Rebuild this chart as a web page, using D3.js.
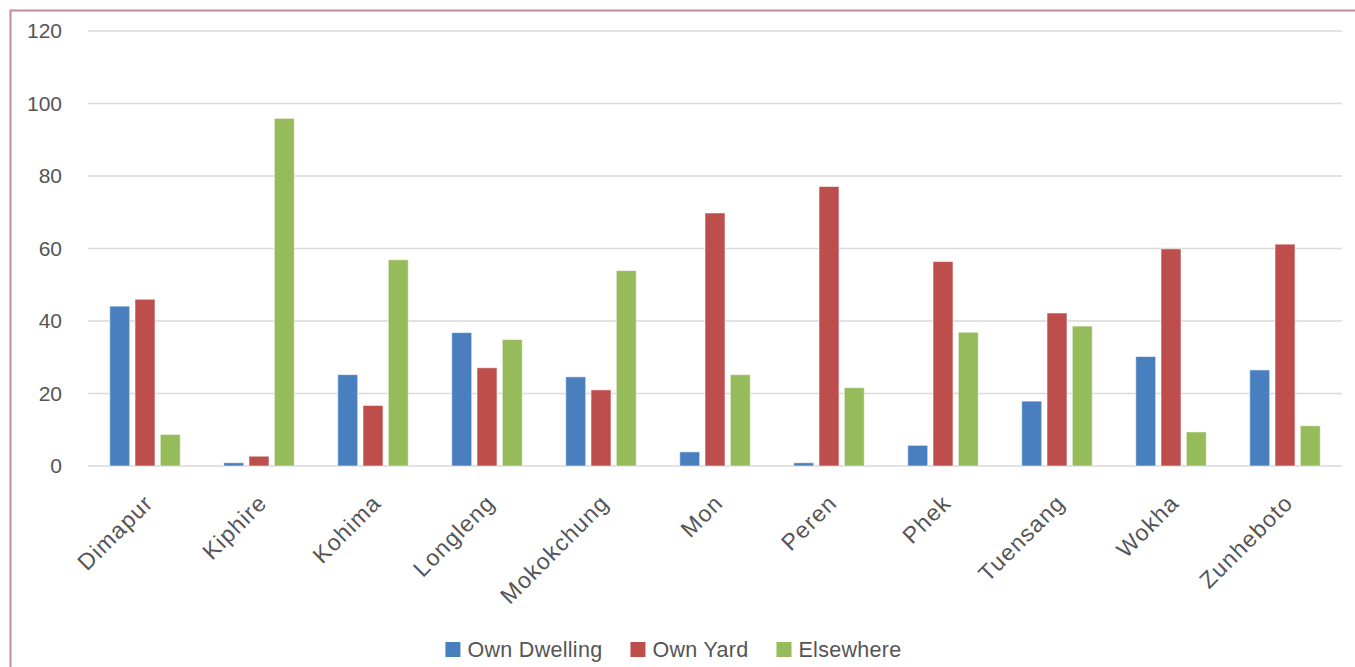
<!DOCTYPE html>
<html>
<head>
<meta charset="utf-8">
<script src="https://cdn.jsdelivr.net/npm/d3@7"></script>
<style>
  html, body { margin: 0; padding: 0; background: #fff; }
  svg { display: block; font-family: "Liberation Sans", Arial, sans-serif; }
</style>
</head>
<body>
<svg id="chart" width="1355" height="667"></svg>
<script>
// Districts along the x axis
const districts = ["Dimapur", "Kiphire", "Kohima", "Longleng", "Mokokchung", "Mon",
                   "Peren", "Phek", "Tuensang", "Wokha", "Zunheboto"];

// Series names and values (%)
const seriesNames = ["Own Dwelling", "Own Yard", "Elsewhere"];
const ownDwelling = [44.1, 0.9, 25.2, 36.8, 24.6, 3.9, 0.9, 5.7, 17.9, 30.2, 26.5];
const ownYard     = [46.0, 2.7, 16.7, 27.1, 21.0, 69.8, 77.1, 56.4, 42.2, 59.9, 61.2];
const elsewhere   = [8.7, 95.9, 56.9, 34.9, 53.9, 25.2, 21.6, 36.9, 38.6, 9.4, 11.1];

// Y axis ticks
const yTicks = [0, 20, 40, 60, 80, 100, 120];

const seriesValues = [ownDwelling, ownYard, elsewhere];
const colors = ["#4a7fbf", "#be4e4b", "#96bb5a"];

const svg = d3.select("#chart");

// Frame around the chart area
svg.append("rect")
  .attr("x", 10.5).attr("y", 10.5)
  .attr("width", 1400).attr("height", 700)
  .attr("fill", "none")
  .attr("stroke", "#c28b9b")
  .attr("stroke-width", 2);

const plot = { left: 88, right: 1342, top: 31, bottom: 466 };

const x0 = d3.scaleBand().domain(districts).range([plot.left, plot.right]);
const x1 = d3.scaleBand().domain(seriesNames)
  .range([0, x0.bandwidth()])
  .paddingInner(0.21)
  .paddingOuter(0.86);
const y = d3.scaleLinear().domain([0, 120]).range([plot.bottom, plot.top]);

// Horizontal gridlines
svg.append("g")
  .selectAll("line")
  .data(yTicks)
  .join("line")
  .attr("x1", plot.left).attr("x2", plot.right)
  .attr("y1", d => y(d)).attr("y2", d => y(d))
  .attr("stroke", "#d9d9d9")
  .attr("stroke-width", 1.5);

// Y axis labels
const yAxis = svg.append("g")
  .attr("transform", `translate(${plot.left},0)`)
  .call(d3.axisLeft(y).tickValues(yTicks).tickSize(0).tickPadding(26));
yAxis.select(".domain").remove();
yAxis.selectAll("text")
  .attr("fill", "#555555")
  .style("font-size", "21px")
  .style("font-family", "'Liberation Sans', Arial, sans-serif");

// Bars
const rows = districts.map((d, i) => ({
  district: d,
  values: seriesNames.map((s, k) => ({ series: s, k, value: seriesValues[k][i] }))
}));

svg.append("g")
  .selectAll("g")
  .data(rows)
  .join("g")
  .attr("transform", d => `translate(${x0(d.district)},0)`)
  .selectAll("rect")
  .data(d => d.values)
  .join("rect")
  .attr("x", d => x1(d.series))
  .attr("width", x1.bandwidth())
  .attr("y", d => y(d.value))
  .attr("height", d => y(0) - y(d.value))
  .attr("fill", d => colors[d.k])
  .attr("stroke", "#ffffff")
  .attr("stroke-opacity", 0.55)
  .attr("stroke-width", 1);

// Rotated district labels
svg.append("g")
  .selectAll("text")
  .data(districts)
  .join("text")
  .attr("transform", d => `translate(${x0(d) + x0.bandwidth() / 2 + 1},496) rotate(-45)`)
  .attr("text-anchor", "end")
  .attr("dy", "0.52em")
  .attr("fill", "#555555")
  .style("font-size", "23px")
  .style("letter-spacing", "1.2px")
  .text(d => d);

// Legend
const legend = svg.append("g");
const items = legend.selectAll("g")
  .data(seriesNames)
  .join("g");
items.append("rect")
  .attr("width", 15).attr("height", 15)
  .attr("y", 642)
  .attr("fill", (d, i) => colors[i]);
items.append("text")
  .attr("x", 22)
  .attr("y", 657)
  .attr("fill", "#555555")
  .style("font-size", "21.5px")
  .style("letter-spacing", "0.3px")
  .text(d => d);

const widths = [];
items.each(function () {
  const w = 22 + d3.select(this).select("text").node().getComputedTextLength();
  widths.push(w);
});
const gap = 28;
const total = d3.sum(widths) + gap * (widths.length - 1);
let start = 673.5 - total / 2;
items.attr("transform", (d, i) => {
  const tx = start;
  start += widths[i] + gap;
  return `translate(${tx},0)`;
});
</script>
</body>
</html>
